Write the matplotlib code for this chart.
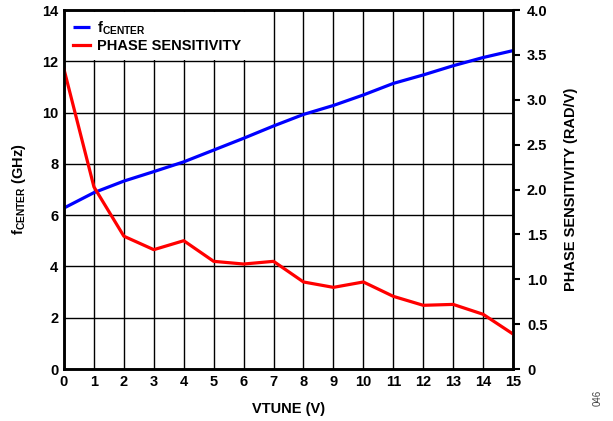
import matplotlib
matplotlib.use("Agg")
import matplotlib.pyplot as plt

# ---------------------------------------------
# Data
# ---------------------------------------------

vtune = [0, 1, 2, 3, 4, 5, 6, 7, 8, 9, 10, 11, 12, 13, 14, 15]
f_center = [6.28, 6.88, 7.33, 7.70, 8.08, 8.54, 9.00, 9.48, 9.93, 10.28,
            10.69, 11.14, 11.47, 11.83, 12.15, 12.42]
phase_sens = [3.34, 2.03, 1.48, 1.33, 1.43, 1.20, 1.17, 1.20, 0.97, 0.91,
              0.97, 0.81, 0.71, 0.72, 0.61, 0.39]

left_ticks = [0, 2, 4, 6, 8, 10, 12, 14]
right_ticks = [0, 0.5, 1.0, 1.5, 2.0, 2.5, 3.0, 3.5, 4.0]
right_labels = ["0", "0.5", "1.0", "1.5", "2.0", "2.5", "3.0", "3.5", "4.0"]

# ---------------------------------------------
# Style
# ---------------------------------------------

plt.rcParams["font.family"] = ["Liberation Sans", "DejaVu Sans"]
plt.rcParams["font.weight"] = "bold"
plt.rcParams["mathtext.fontset"] = "custom"
plt.rcParams["mathtext.rm"] = "Liberation Sans:bold"
plt.rcParams["mathtext.it"] = "Liberation Sans:bold"
plt.rcParams["mathtext.bf"] = "Liberation Sans:bold"
plt.rcParams["mathtext.default"] = "rm"

fs = 10.5

fig = plt.figure(figsize=(6.13, 4.21), dpi=100)
ax = fig.add_axes([0.1044, 0.1235, 0.7325, 0.8525])

ax.plot(vtune, f_center, color="#0000ff", lw=2.3, label=r"$f_{CENTER}$",
        solid_capstyle="butt")
ax.set_xlim(0, 15)
ax.set_ylim(0, 14)
ax.set_xticks(vtune)
ax.set_yticks(left_ticks)
ax.grid(True, color="black", lw=1.0)
ax.tick_params(axis="both", length=0, labelsize=fs, pad=4)
ax.set_xlabel("VTUNE (V)", fontsize=fs, fontweight="bold", labelpad=10)
ax.set_ylabel(r"$f_{CENTER}$ (GHz)", fontsize=fs, fontweight="bold", labelpad=10)
for s in ax.spines.values():
    s.set_linewidth(1.8)

ax2 = ax.twinx()
ax2.plot(vtune, phase_sens, color="#ff0000", lw=2.3, label="PHASE SENSITIVITY")
ax2.set_ylim(0, 4.0)
ax2.set_yticks(right_ticks)
ax2.set_yticklabels(right_labels)
ax2.tick_params(axis="y", direction="out", length=5, width=1.5, labelsize=fs, pad=5)
ax2.set_ylabel("PHASE SENSITIVITY (RAD/V)", fontsize=fs, fontweight="bold", labelpad=12)
for s in ax2.spines.values():
    s.set_linewidth(1.8)

h1, l1 = ax.get_legend_handles_labels()
h2, l2 = ax2.get_legend_handles_labels()
leg = ax2.legend(h1 + h2, l1 + l2, loc="upper left", fontsize=fs,
                 frameon=True, fancybox=False, framealpha=1.0,
                 edgecolor="none", handlelength=1.1, handletextpad=0.5,
                 borderpad=0.5, labelspacing=0.15, borderaxespad=0.15)

fig.text(0.975, 0.035, "046", rotation=90, fontsize=7, fontweight="normal",
         color="#444444", ha="center", va="bottom")

fig.savefig("out.png", dpi=100)
